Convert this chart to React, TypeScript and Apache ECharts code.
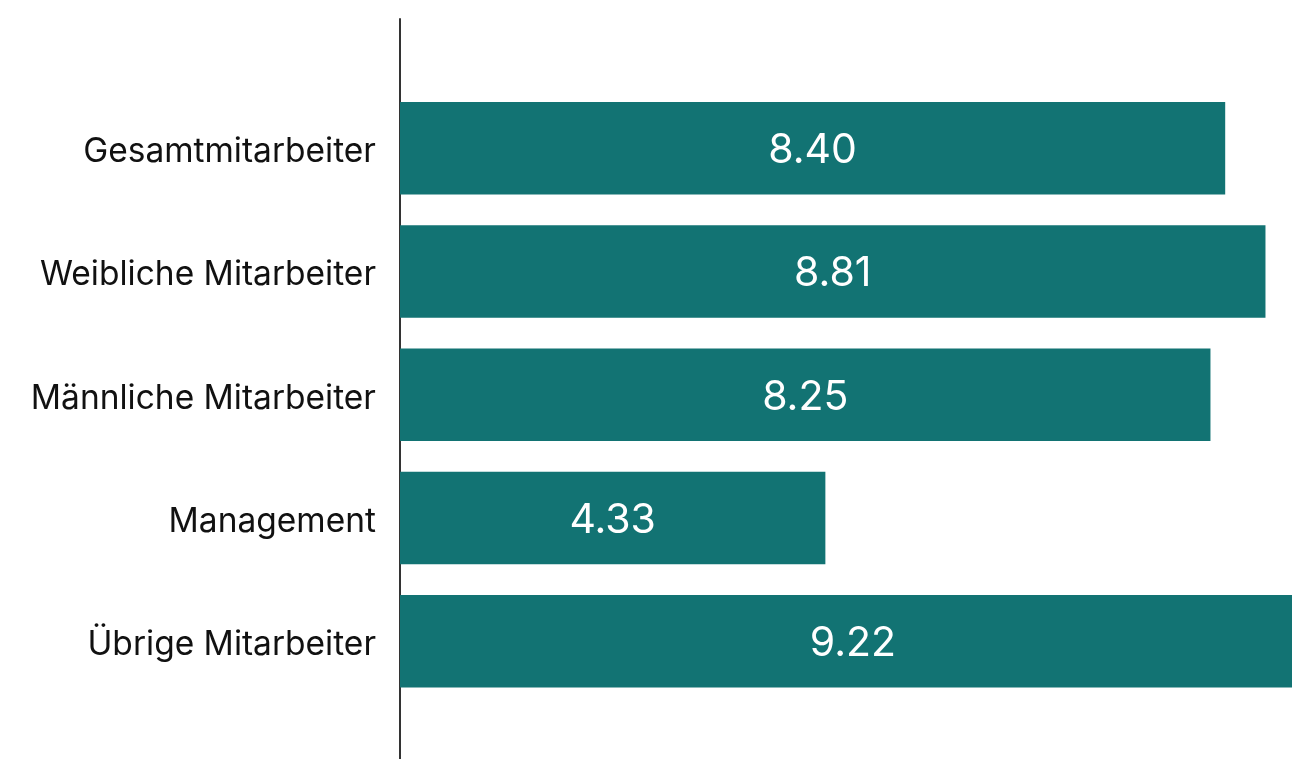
import React, { useEffect, useRef } from "react";
import * as echarts from "echarts";

const categories: string[] = [
  "Gesamtmitarbeiter",
  "Weibliche Mitarbeiter",
  "Männliche Mitarbeiter",
  "Management",
  "Übrige Mitarbeiter",
];
const values: number[] = [8.4, 8.81, 8.25, 4.33, 9.22];

const BAR_COLOR = "#127373";
const AXIS_COLOR = "#333333";

export default function App() {
  const ref = useRef<HTMLDivElement>(null);

  useEffect(() => {
    if (!ref.current) return;
    const chart = echarts.init(ref.current, undefined, { renderer: "svg" });
    chart.setOption({
      animation: false,
      grid: [
        { left: 392, right: 0, top: 78.5, height: 616.5, containLabel: false },
        { left: 392, width: 10, top: 11, bottom: -20, containLabel: false },
      ],
      xAxis: [
        {
          type: "value",
          gridIndex: 0,
          min: 0,
          max: 9.08,
          show: false,
        },
        { type: "value", gridIndex: 1, show: false, min: 0, max: 1 },
      ],
      yAxis: [
        {
          type: "category",
          gridIndex: 0,
          data: categories,
          inverse: true,
          axisLine: { show: false },
          axisTick: { show: false },
          splitLine: { show: false },
          axisLabel: {
            margin: 24,
            color: "#111111",
            fontFamily: "Inter",
            fontSize: 33.5,
            verticalAlign: "top",
            lineHeight: 4,
          },
        },
        {
          type: "value",
          gridIndex: 1,
          min: 0,
          max: 1,
          axisLine: { show: true, lineStyle: { color: AXIS_COLOR, width: 2 } },
          axisTick: { show: false },
          axisLabel: { show: false },
          splitLine: { show: false },
        },
      ],
      series: [
        {
          type: "bar",
          xAxisIndex: 0,
          yAxisIndex: 0,
          data: values,
          clip: false,
          barCategoryGap: "25%",
          itemStyle: { color: BAR_COLOR },
          label: {
            show: true,
            position: "inside",
            color: "#ffffff",
            fontFamily: "Inter",
            fontSize: 41,
            formatter: (p: any) => Number(p.value).toFixed(2),
          },
        },
      ],
    });
    return () => chart.dispose();
  }, []);

  return (
    <div
      ref={ref}
      style={{ position: "fixed", left: 8, top: 8, width: 1284, height: 751 }}
    />
  );
}
